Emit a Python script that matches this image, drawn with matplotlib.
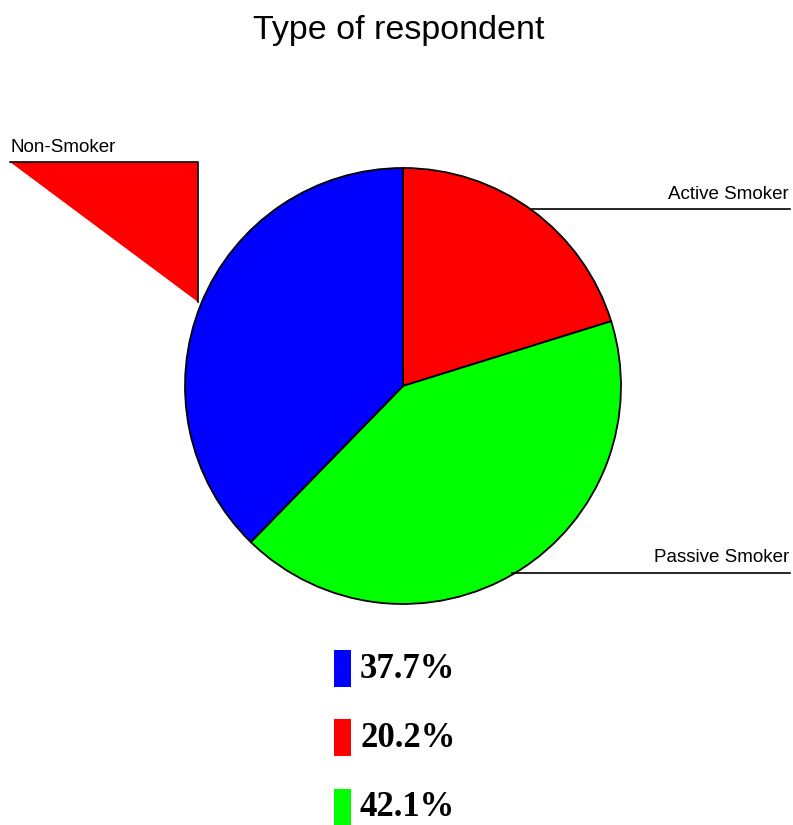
import matplotlib.pyplot as plt
import numpy as np
from matplotlib.patches import Polygon, Rectangle

TITLE = "Type of respondent"
labels = ["Active Smoker", "Passive Smoker", "Non-Smoker"]
shares = [20.2, 42.1, 37.7]
colors = ["#ff0000", "#00ff00", "#0000ff"]
# legend order as in the picture
legend_order = [2, 0, 1]

W, H = 793, 825
CX, CY, R = 403, 386, 218

fig = plt.figure(figsize=(W / 100, H / 100), dpi=100)
ax = fig.add_axes([0, 0, 1, 1])

# y axis is flipped below, so start at -90 and go counterclockwise in data
# space; on screen that is clockwise from the top
wedges, _ = ax.pie(
    shares,
    colors=colors,
    startangle=-90,
    counterclock=True,
    center=(CX, CY),
    radius=R,
    wedgeprops=dict(edgecolor="black", linewidth=1.3),
    frame=True,
)
ax.set_xlim(0, W)
ax.set_ylim(H, 0)
ax.set_aspect("equal")
ax.axis("off")

anchors = []
for w in wedges:
    mid = np.deg2rad((w.theta1 + w.theta2) / 2)
    anchors.append((CX + R * np.cos(mid), CY + R * np.sin(mid)))

font = "Liberation Sans"
lab_size = 13.5

# Active Smoker
ax_, ay_ = anchors[0]
ax.plot([ax_, 790], [ay_ - 1, ay_ - 1], color="black", lw=1.2)
ax.text(789, ay_ - 7, labels[0], ha="right", va="bottom", fontsize=lab_size, family=font)

# Passive Smoker
px_, py_ = anchors[1]
ax.plot([px_ - 5, 790], [py_ + 1, py_ + 1], color="black", lw=1.2)
ax.text(789, py_ - 6, labels[1], ha="right", va="bottom", fontsize=lab_size, family=font)

# Non-Smoker, filled leader like the original
nx_, ny_ = anchors[2]
tri = Polygon([(10, 162), (nx_ - 3, 162), (nx_ - 3, ny_ - 2)], closed=True,
              facecolor=colors[0], edgecolor="none")
ax.add_patch(tri)
ax.plot([10, nx_ - 3, nx_ - 3], [162, 162, ny_ - 2], color="black", lw=1.2)
ax.text(10, 156, labels[2], ha="left", va="bottom", fontsize=lab_size, family=font)

ax.text(W / 2 + 2, 30, TITLE, ha="center", va="center", fontsize=24.5, family=font)

# legend
for k, i in enumerate(legend_order):
    yc = 668 + k * 69.5
    ax.add_patch(Rectangle((334, yc - 18.5), 17, 37, facecolor=colors[i], edgecolor="none"))
    ax.text(360, yc + 1, f"{shares[i]:.1f}%", ha="left", va="center",
            fontsize=25, fontweight="bold", family="Liberation Serif")

fig.savefig("out.png", dpi=100)
